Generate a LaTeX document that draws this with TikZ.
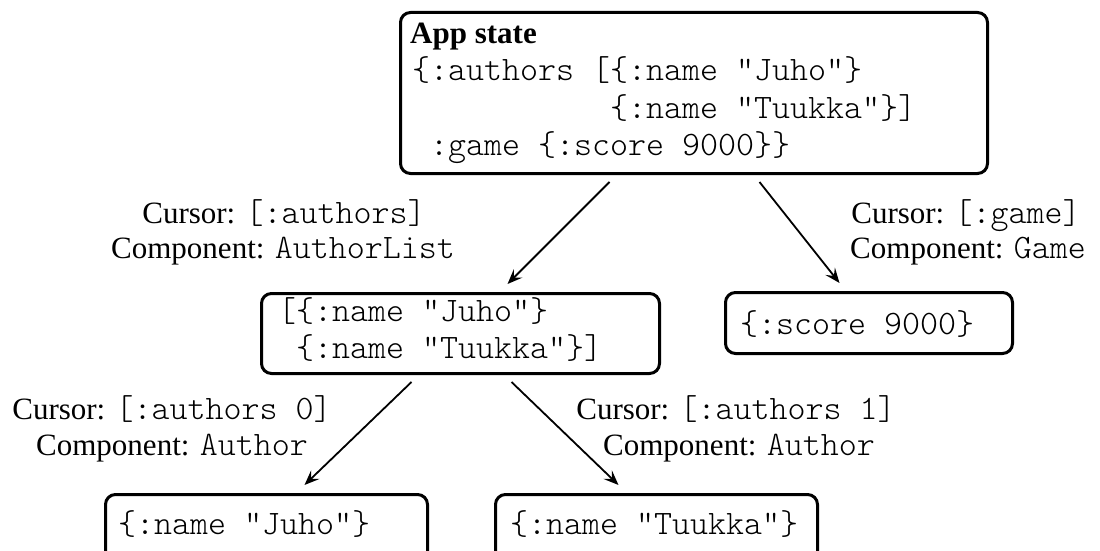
\documentclass[tikz,border=0pt]{standalone}
\usepackage{fontspec}
\setmainfont{Liberation Serif}
\setmonofont{Latin Modern Mono Light}[Scale=1.106]
\usetikzlibrary{arrows.meta}

\tikzset{
  statebox/.style={draw, line width=3pt, rounded corners=10pt, inner sep=0pt,
    anchor=north west},
  codeline/.style={anchor=base west, inner sep=0pt,
    font=\fontsize{31}{36}\selectfont\ttfamily},
  title/.style={anchor=base west, inner sep=0pt,
    font=\fontsize{31}{36}\selectfont\bfseries},
  caption/.style={anchor=base, inner sep=0pt,
    font=\fontsize{31}{36}\selectfont},
  cursorarrow/.style={line width=1.8pt,
    -{Stealth[length=15pt, width=12pt, inset=6pt]}}
}

\begin{document}
\begin{tikzpicture}[x=1pt, y=-1pt]
  \useasboundingbox (0,0) rectangle (1100,551);
  \fill[white] (0,0) rectangle (1100,551);

  % state tree boxes
  \node[statebox, minimum width=587pt, minimum height=161pt] (app) at (399,11) {};
  \node[statebox, minimum width=398pt, minimum height=80pt] (list) at (260,292) {};
  \node[statebox, minimum width=287pt, minimum height=61pt] (score) at (724,291) {};
  \node[statebox, minimum width=322pt, minimum height=90pt] (juho) at (104,493) {};
  \node[statebox, minimum width=322pt, minimum height=90pt] (tuukka) at (494,493) {};

  % root state
  \node[title] (appT) at (410,44) {App state};
  \node[codeline] (appL1) at (412,81) {\{:authors [\{:name "Juho"\}};
  \node[codeline] (appL2) at (610,118) {\{:name "Tuukka"\}]};
  \node[codeline] (appL3) at (430,155) {:game \{:score 9000\}\}};

  % sub-states
  \node[codeline] (listL1) at (278,321) {[\{:name "Juho"\}};
  \node[codeline] (listL2) at (296,358) {\{:name "Tuukka"\}]};
  \node[codeline] (scoreL) at (740,334) {\{:score 9000\}};
  \node[codeline] (juhoL) at (118,534) {\{:name "Juho"\}};
  \node[codeline] (tuukkaL) at (510,534) {\{:name "Tuukka"\}};

  % cursor / component captions
  \node[caption] (c1a) at (284,223) {Cursor: \texttt{[:authors]}};
  \node[caption] (c1b) at (283,258) {Component: \texttt{AuthorList}};
  \node[caption] (c2a) at (966,223) {Cursor: \texttt{[:game]}};
  \node[caption] (c2b) at (968,258) {Component: \texttt{Game}};
  \node[caption] (c3a) at (172,419) {Cursor: \texttt{[:authors 0]}};
  \node[caption] (c3b) at (172,455) {Component: \texttt{Author}};
  \node[caption] (c4a) at (736,419) {Cursor: \texttt{[:authors 1]}};
  \node[caption] (c4b) at (739,455) {Component: \texttt{Author}};

  % cursor arrows
  \draw[cursorarrow] ([xshift=-84.5pt, yshift=-7pt]app.south)
    -- ([xshift=47pt, yshift=8pt]list.north);
  \draw[cursorarrow] ([xshift=65.5pt, yshift=-7pt]app.south)
    -- ([xshift=-29.5pt, yshift=8pt]score.north);
  \draw[cursorarrow] ([xshift=-49pt, yshift=-7pt]list.south)
    -- ([xshift=38pt, yshift=8pt]juho.north);
  \draw[cursorarrow] ([xshift=51pt, yshift=-7pt]list.south)
    -- ([xshift=-38pt, yshift=8pt]tuukka.north);
\end{tikzpicture}
\end{document}
